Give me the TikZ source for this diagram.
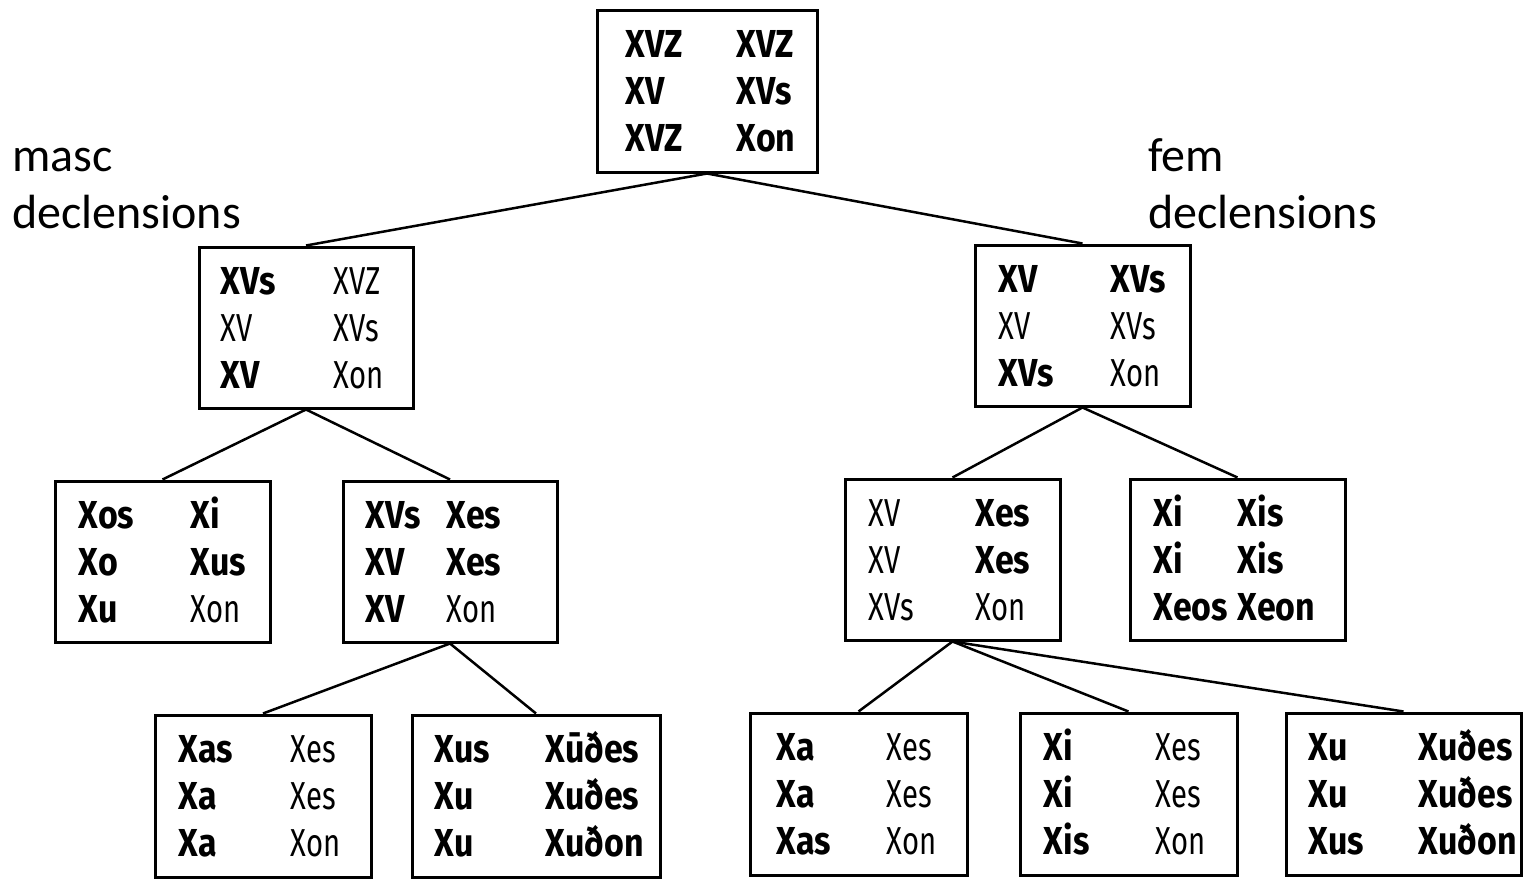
\documentclass[tikz,border=0pt]{standalone}
\usepackage{fontspec}
\setmainfont{Carlito}
\newfontfamily\bfnt[FakeStretch=0.87]{Fira Sans}
\newfontfamily\rfnt[FakeStretch=0.75]{Fira Sans}
\newcommand\Bc[1]{{\bfnt\bfseries #1}}
\newcommand\Rc[1]{{\rfnt #1}}
\usetikzlibrary{calc}
\tikzset{
  dbox/.style={draw, line width=1.5pt, rectangle, inner sep=0pt},
  cell/.style={inner sep=0pt, anchor=base west, font=\fontsize{19.5}{19.5}\selectfont},
  link/.style={line width=1.25pt},
  lab/.style={inner sep=0pt, anchor=base west, font=\fontsize{24}{24}\selectfont}
}
\newcommand\cells[9]{%
  \node[cell] (#1-1) at ($(#1.west)+(#2,-33.5)$) {#4};
  \node[cell] (#1-2) at ($(#1.west)+(#3,-33.5)$) {#5};
  \node[cell] (#1-3) at ($(#1.west)+(#2,13.5)$) {#6};
  \node[cell] (#1-4) at ($(#1.west)+(#3,13.5)$) {#7};
  \node[cell] (#1-5) at ($(#1.west)+(#2,60.5)$) {#8};
  \node[cell] (#1-6) at ($(#1.west)+(#3,60.5)$) {#9};
}
\begin{document}
\begin{tikzpicture}[x=0.5pt,y=-0.5pt]
\useasboundingbox (0,0) rectangle (1526,879);
% boxes
\node[dbox, minimum width=110pt, minimum height=81pt] (top) at (707,91) {};
\node[dbox, minimum width=107pt, minimum height=80.5pt] (ml) at (306,327.5) {};
\node[dbox, minimum width=107.5pt, minimum height=80.5pt] (fl) at (1082.5,325.5) {};
\node[dbox, minimum width=107.5pt, minimum height=80.5pt] (A) at (162.5,561.5) {};
\node[dbox, minimum width=107pt, minimum height=80.5pt] (B) at (450,561.5) {};
\node[dbox, minimum width=107.5pt, minimum height=80.5pt] (C) at (952.5,559.5) {};
\node[dbox, minimum width=107.5pt, minimum height=80.5pt] (D) at (1237.5,559.5) {};
\node[dbox, minimum width=108pt, minimum height=81pt] (E) at (263,796) {};
\node[dbox, minimum width=124pt, minimum height=81pt] (F) at (536,796) {};
\node[dbox, minimum width=108.5pt, minimum height=81pt] (G) at (858.5,794) {};
\node[dbox, minimum width=108.5pt, minimum height=81pt] (H) at (1128.5,794) {};
\node[dbox, minimum width=117.5pt, minimum height=81pt] (I) at (1403.5,794) {};
% connectors
\draw[link] (top.south) -- (ml.north);
\draw[link] (top.south) -- (fl.north);
\draw[link] (ml.south) -- (A.north);
\draw[link] (ml.south) -- (B.north);
\draw[link] (fl.south) -- (C.north);
\draw[link] (fl.south) -- (D.north);
\draw[link] (B.south) -- (E.north);
\draw[link] (B.south) -- (F.north);
\draw[link] (C.south) -- (G.north);
\draw[link] (C.south) -- (H.north);
\draw[link] (C.south) -- (I.north);
% cell texts
\cells{top}{30}{141}{\Bc{XVZ}}{\Bc{XVZ}}{\Bc{XV}}{\Bc{XVs}}{\Bc{XVZ}}{\Bc{Xon}}
\cells{ml}{23}{136}{\Bc{XVs}}{\Rc{XVZ}}{\Rc{XV}}{\Rc{XVs}}{\Bc{XV}}{\Rc{Xon}}
\cells{fl}{25}{137}{\Bc{XV}}{\Bc{XVs}}{\Rc{XV}}{\Rc{XVs}}{\Bc{XVs}}{\Rc{Xon}}
\cells{A}{25}{137}{\Bc{Xos}}{\Bc{Xi}}{\Bc{Xo}}{\Bc{Xus}}{\Bc{Xu}}{\Rc{Xon}}
\cells{B}{24}{105}{\Bc{XVs}}{\Bc{Xes}}{\Bc{XV}}{\Bc{Xes}}{\Bc{XV}}{\Rc{Xon}}
\cells{C}{25}{132}{\Rc{XV}}{\Bc{Xes}}{\Rc{XV}}{\Bc{Xes}}{\Rc{XVs}}{\Rc{Xon}}
\cells{D}{25}{109}{\Bc{Xi}}{\Bc{Xis}}{\Bc{Xi}}{\Bc{Xis}}{\Bc{Xeos}}{\Bc{Xeon}}
\cells{E}{25}{137}{\Bc{Xas}}{\Rc{Xes}}{\Bc{Xa}}{\Rc{Xes}}{\Bc{Xa}}{\Rc{Xon}}
\cells{F}{24}{135}{\Bc{Xus}}{\Bc{Xūðes}}{\Bc{Xu}}{\Bc{Xuðes}}{\Bc{Xu}}{\Bc{Xuðon}}
\cells{G}{28}{138}{\Bc{Xa}}{\Rc{Xes}}{\Bc{Xa}}{\Rc{Xes}}{\Bc{Xas}}{\Rc{Xon}}
\cells{H}{25}{137}{\Bc{Xi}}{\Rc{Xes}}{\Bc{Xi}}{\Rc{Xes}}{\Bc{Xis}}{\Rc{Xon}}
\cells{I}{24}{134}{\Bc{Xu}}{\Bc{Xuðes}}{\Bc{Xu}}{\Bc{Xuðes}}{\Bc{Xus}}{\Bc{Xuðon}}
% labels
\node[lab] (masc1) at (12,171) {masc};
\node[lab] (masc2) at (12,228) {declensions};
\node[lab] (fem1) at (1148,171) {fem};
\node[lab] (fem2) at (1148,228) {declensions};
\end{tikzpicture}
\end{document}
